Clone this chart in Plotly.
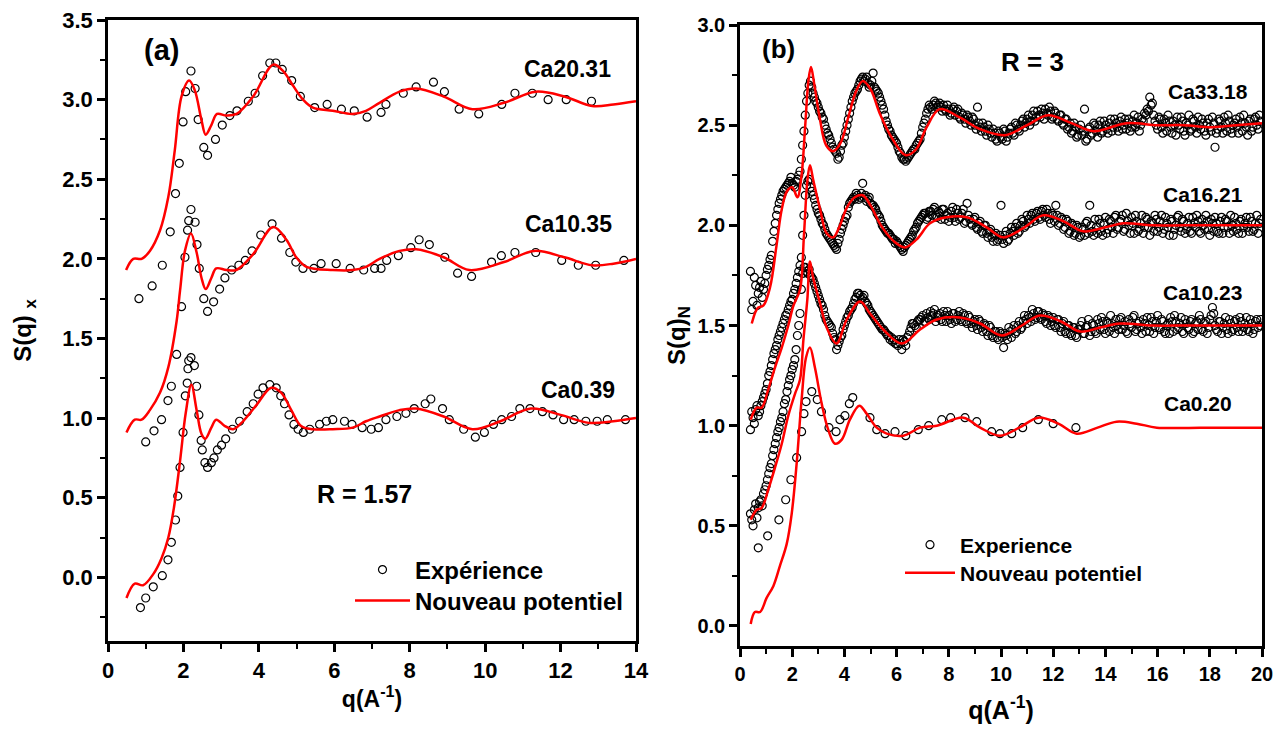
import plotly.graph_objects as go

# page is photographed with an 8 px body margin: figure is sized to fit the 1285x733 window
OFF = 8
W, H = 1285 - OFF, 733 - OFF

# ---------------- Panel (a) : X-ray, R = 1.57 ----------------
qa_exp_20 = [0.82,1.17,1.44,1.65,1.79,1.89,1.99,2.06,2.20,2.31,2.39,2.54,2.64,2.85,3.03,3.23,3.42,3.72,3.90,4.10,4.29,4.45,4.62,4.87,5.10,5.48,5.81,6.19,6.53,6.87,7.24,7.37,7.83,8.17,8.63,8.92,9.31,9.83,10.44,10.79,11.25,11.67,12.15,12.82]
sa_exp_20 = [1.75,1.83,1.96,2.17,2.41,2.60,2.86,3.05,3.18,3.07,2.875,2.70,2.65,2.75,2.84,2.90,2.93,2.99,3.04,3.15,3.23,3.23,3.19,3.12,3.02,2.95,2.97,2.94,2.93,2.89,2.92,2.97,3.04,3.08,3.11,3.05,2.94,2.91,2.97,3.04,3.04,3.00,3.00,2.99]

qa_exp_10 = [1.00,1.22,1.42,1.59,1.68,1.82,1.95,2.04,2.11,2.14,2.20,2.31,2.36,2.42,2.54,2.64,2.80,2.96,3.10,3.28,3.47,3.64,3.82,4.05,4.35,4.60,4.82,4.98,5.17,5.46,5.65,6.05,6.42,6.78,7.07,7.24,7.39,7.70,8.03,8.25,8.52,8.93,9.27,9.64,10.17,10.43,10.79,11.34,12.03,12.47,12.93,13.68]
sa_exp_10 = [0.85,0.92,0.99,1.11,1.20,1.40,1.70,2.01,2.18,2.24,2.31,2.23,2.09,1.94,1.75,1.67,1.73,1.81,1.88,1.93,1.96,1.99,2.05,2.15,2.22,2.13,2.04,1.98,1.94,1.94,1.97,1.97,1.94,1.93,1.94,1.94,1.99,2.02,2.07,2.12,2.09,2.01,1.91,1.89,1.98,2.02,2.04,2.04,1.99,1.96,1.96,1.99]

qa_exp_0 = [0.86,1.00,1.20,1.44,1.59,1.68,1.79,1.85,1.91,1.99,2.05,2.10,2.12,2.14,2.20,2.29,2.35,2.41,2.47,2.50,2.57,2.64,2.74,2.81,2.90,3.01,3.12,3.30,3.49,3.69,3.85,3.98,4.11,4.29,4.46,4.58,4.68,4.80,4.93,5.04,5.18,5.35,5.61,5.79,5.96,6.27,6.47,6.74,6.98,7.17,7.37,7.66,7.90,8.12,8.41,8.56,8.87,9.05,9.43,9.74,9.98,10.22,10.44,10.70,10.92,11.19,11.52,11.80,12.08,12.36,12.67,12.97,13.24,13.72]
sa_exp_0 = [-0.19,-0.13,-0.06,0.01,0.11,0.22,0.36,0.51,0.69,0.91,1.14,1.22,1.31,1.36,1.38,1.33,1.20,1.02,0.86,0.80,0.72,0.69,0.72,0.75,0.80,0.83,0.87,0.93,0.98,1.04,1.09,1.15,1.19,1.21,1.19,1.14,1.09,1.02,0.96,0.93,0.91,0.93,0.96,0.98,0.99,0.98,0.96,0.94,0.93,0.94,0.99,1.01,1.03,1.06,1.09,1.12,1.06,0.99,0.93,0.88,0.91,0.96,0.99,1.01,1.06,1.06,1.04,1.02,0.99,0.99,0.98,0.98,0.99,0.99]

qa_fit_20 = [0.48,0.67,0.89,1.11,1.38,1.60,1.77,1.95,2.15,2.30,2.48,2.59,2.74,2.89,3.14,3.41,3.85,4.38,4.64,4.90,5.17,5.43,5.96,6.49,6.84,7.20,7.73,8.17,8.90,9.66,10.50,11.34,12.10,12.84,13.40,14.00]
sa_fit_20 = [1.93,2.00,2.00,2.05,2.18,2.39,2.68,3.02,3.12,3.06,2.87,2.78,2.84,2.91,2.90,2.91,3.02,3.22,3.18,3.09,3.00,2.95,2.93,2.91,2.93,2.98,3.05,3.07,3.02,2.94,2.98,3.05,3.02,2.96,2.97,2.99]

qa_fit_10 = [0.49,0.71,0.89,1.11,1.38,1.60,1.82,1.91,2.04,2.20,2.35,2.48,2.59,2.74,2.87,3.14,3.40,3.85,4.38,4.73,4.99,5.26,5.96,6.49,6.84,7.20,7.73,8.17,8.90,9.58,10.50,11.30,12.10,12.84,13.40,14.00]
sa_fit_10 = [0.91,0.99,0.99,1.05,1.16,1.32,1.61,1.80,2.05,2.16,2.04,1.88,1.81,1.88,1.94,1.93,1.93,2.03,2.20,2.12,2.01,1.95,1.93,1.93,1.95,2.00,2.05,2.06,2.01,1.93,1.98,2.05,2.01,1.96,1.97,2.00]

qa_fit_0 = [0.49,0.71,0.93,1.20,1.42,1.60,1.75,1.91,2.06,2.21,2.35,2.48,2.58,2.74,2.87,3.10,3.32,3.58,3.93,4.33,4.59,4.86,5.12,5.43,5.96,6.49,6.84,7.20,7.73,8.17,8.90,9.66,10.40,11.21,12.00,12.75,13.40,14.00]
sa_fit_0 = [-0.13,-0.04,-0.05,0.02,0.12,0.25,0.44,0.73,1.03,1.21,1.05,0.90,0.87,0.94,0.99,0.95,0.93,0.98,1.08,1.19,1.16,1.05,0.95,0.93,0.93,0.94,0.98,1.01,1.05,1.06,1.01,0.93,0.98,1.06,1.02,0.97,0.98,1.00]

# ---------------- Panel (b) : neutrons, R = 3 ----------------
qb_exp = [0.4,0.5,0.6,0.7,0.8,0.9,1.0,1.1,1.2,1.3,1.4,1.5,1.6,1.7,1.8,1.9,2.0,2.1,2.2,2.3,2.4,2.5,2.6,2.7,2.8,2.9,3.0,3.1,3.2,3.3,3.4,3.5,3.6,3.7,3.8,3.9,
          4.0,4.1,4.2,4.3,4.4,4.5,4.6,4.7,4.8,4.9,5.0,5.1,5.2,5.3,5.4,5.5,5.6,5.7,5.8,5.9,6.0,6.1,6.2,6.3,6.4,6.5,6.6,6.7,6.8,6.9,7.0,7.1,7.2,7.3,7.4,7.5,7.6,7.7,7.8,7.9,
          8.0,8.1,8.2,8.3,8.4,8.5,8.6,8.7,8.8,8.9,9.0,9.1,9.2,9.3,9.4,9.5,9.6,9.7,9.8,9.9,10.0,10.1,10.2,10.3,10.4,10.5,10.6,10.7,10.8,10.9,11.0,11.1,11.2,11.3,11.4,11.5,11.6,11.7,11.8,11.9,
          12.0,12.1,12.2,12.3,12.4,12.5,12.6,12.7,12.8,12.9,13.0,13.1,13.2,13.3,13.4,13.5,13.6,13.7,13.8,13.9,14.0,14.1,14.2,14.3,14.4,14.5,14.6,14.7,14.8,14.9,15.0,15.1,15.2,15.3,15.4,15.5,15.6,15.7,15.8,15.9,
          16.0,16.1,16.2,16.3,16.4,16.5,16.6,16.7,16.8,16.9,17.0,17.1,17.2,17.3,17.4,17.5,17.6,17.7,17.8,17.9,18.0,18.1,18.2,18.3,18.4,18.5,18.6,18.7,18.8,18.9,19.0,19.1,19.2,19.3,19.4,19.5,19.6,19.7,19.8,19.9]

qb_exp_mid = [0.45,0.55,0.65,0.75,0.85,0.95,1.05,1.15,1.25,1.35,1.45,1.55,1.65,1.75,1.85,1.95,2.05,2.15,2.25,2.35,2.45,2.55,2.65,2.75,2.85,2.95,3.05,3.15,3.25,3.35,3.45,3.55,3.65,3.75,3.85,3.95,
              4.05,4.15,4.25,4.35,4.45,4.55,4.65,4.75,4.85,4.95,5.05,5.15,5.25,5.35,5.45,5.55,5.65,5.75,5.85,5.95,6.05,6.15,6.25,6.35,6.45,6.55,6.65,6.75,6.85,6.95,7.05,7.15,7.25,7.35,7.45,7.55,7.65,7.75,7.85,7.95,
              8.05,8.15,8.25,8.35,8.45,8.55,8.65,8.75,8.85,8.95,9.05,9.15,9.25,9.35,9.45,9.55,9.65,9.75,9.85,9.95,10.05,10.15,10.25,10.35,10.45,10.55,10.65,10.75,10.85,10.95,11.05,11.15,11.25,11.35,11.45,11.55,11.65,11.75,11.85,11.95,
              12.05,12.15,12.25,12.35,12.45,12.55,12.65,12.75,12.85,12.95,13.05,13.15,13.25,13.35,13.45,13.55,13.65,13.75,13.85,13.95,14.05,14.15,14.25,14.35,14.45,14.55,14.65,14.75,14.85,14.95,15.05,15.15,15.25,15.35,15.45,15.55,15.65,15.75,15.85,15.95,
              16.05,16.15,16.25,16.35,16.45,16.55,16.65,16.75,16.85,16.95,17.05,17.15,17.25,17.35,17.45,17.55,17.65,17.75,17.85,17.95,18.05,18.15,18.25,18.35,18.45,18.55,18.65,18.75,18.85,18.95,19.05,19.15,19.25,19.35,19.45,19.55,19.65,19.75,19.85,19.95]

sb_exp_33 = [1.77,1.62,1.70,1.66,1.72,1.68,1.75,1.80,1.85,1.97,2.05,2.11,2.15,2.18,2.20,2.22,2.21,2.19,2.23,2.27,2.40,2.55,2.66,2.72,2.66,2.62,2.59,2.56,2.53,2.48,2.45,2.41,2.38,2.36,2.34,2.40,
             2.44,2.50,2.56,2.62,2.66,2.68,2.72,2.74,2.73,2.71,2.70,2.76,2.68,2.66,2.62,2.58,2.52,2.48,2.45,2.43,2.41,2.37,2.34,2.33,2.33,2.35,2.37,2.38,2.41,2.43,2.49,2.53,2.58,2.59,2.60,2.61,2.60,2.59,2.60,2.57,
             2.58,2.56,2.59,2.57,2.54,2.56,2.53,2.55,2.52,2.54,2.50,2.59,2.49,2.51,2.47,2.50,2.46,2.48,2.43,2.47,2.44,2.48,2.42,2.46,2.49,2.45,2.50,2.47,2.52,2.49,2.53,2.50,2.55,2.52,2.57,2.54,2.56,2.58,2.55,2.57,
             2.54,2.56,2.52,2.55,2.50,2.53,2.49,2.46,2.51,2.44,2.48,2.45,2.58,2.43,2.49,2.46,2.50,2.44,2.52,2.47,2.50,2.46,2.53,2.49,2.51,2.47,2.54,2.50,2.48,2.53,2.49,2.55,2.51,2.47,2.53,2.56,2.58,2.64,2.61,2.52,
             2.48,2.53,2.46,2.51,2.55,2.49,2.52,2.45,2.50,2.54,2.47,2.51,2.55,2.48,2.52,2.46,2.50,2.53,2.47,2.51,2.49,2.54,2.39,2.48,2.52,2.46,2.51,2.55,2.48,2.50,2.53,2.46,2.51,2.55,2.49,2.52,2.47,2.53,2.50,2.55]
sb_exp_33_mid = [1.58,1.74,1.60,1.69,1.64,1.71,1.78,1.83,1.92,2.01,2.08,2.13,2.17,2.19,2.21,2.24,2.20,2.22,2.25,2.33,2.47,2.62,2.70,2.69,2.64,2.61,2.57,2.54,2.50,2.46,2.43,2.39,2.37,2.33,2.37,2.41,
                 2.47,2.53,2.59,2.64,2.67,2.70,2.73,2.72,2.74,2.69,2.72,2.69,2.67,2.64,2.60,2.55,2.50,2.47,2.44,2.42,2.39,2.36,2.33,2.32,2.34,2.36,2.38,2.40,2.42,2.46,2.51,2.56,2.60,2.58,2.62,2.59,2.61,2.57,2.58,2.60,
                 2.55,2.58,2.55,2.58,2.53,2.55,2.51,2.54,2.50,2.53,2.48,2.51,2.47,2.49,2.45,2.48,2.44,2.46,2.42,2.46,2.43,2.47,2.44,2.48,2.46,2.51,2.48,2.50,2.53,2.51,2.55,2.52,2.57,2.54,2.55,2.58,2.53,2.56,2.59,2.53,
                 2.57,2.53,2.55,2.51,2.53,2.48,2.51,2.47,2.49,2.45,2.50,2.47,2.42,2.48,2.45,2.51,2.47,2.50,2.46,2.52,2.48,2.51,2.47,2.53,2.49,2.52,2.48,2.53,2.51,2.47,2.52,2.49,2.54,2.50,2.52,2.55,2.57,2.60,2.55,2.50,
                 2.54,2.49,2.53,2.47,2.52,2.46,2.50,2.54,2.48,2.52,2.45,2.50,2.47,2.53,2.49,2.54,2.48,2.51,2.45,2.53,2.47,2.51,2.46,2.53,2.49,2.54,2.47,2.52,2.46,2.51,2.49,2.54,2.47,2.51,2.45,2.53,2.49,2.54,2.48,2.52]

sb_exp_16 = [0.98,1.04,1.08,1.05,1.10,1.14,1.18,1.25,1.30,1.36,1.40,1.45,1.49,1.53,1.56,1.60,1.63,1.68,1.74,1.80,1.95,2.15,2.22,2.19,2.15,2.10,2.06,2.03,2.00,1.96,1.94,1.92,1.90,1.88,1.93,1.98,
             2.02,2.05,2.11,2.13,2.13,2.15,2.14,2.21,2.15,2.13,2.11,2.10,2.08,2.05,2.02,1.99,1.97,1.96,1.94,1.93,1.92,1.90,1.88,1.89,1.91,1.93,1.95,1.98,2.01,2.03,2.05,2.06,2.04,2.07,2.08,2.05,2.07,2.03,2.08,2.05,
             2.02,2.07,2.04,2.08,2.03,2.06,2.01,2.11,2.03,2.00,2.04,1.98,2.02,1.96,2.00,1.94,1.98,1.92,1.96,1.93,2.10,1.91,1.97,1.93,1.99,1.95,2.01,1.97,2.03,1.99,2.05,2.01,2.06,2.02,2.07,2.03,2.08,2.04,2.06,2.01,
             2.05,2.10,2.00,2.04,1.98,2.03,1.96,2.01,1.95,2.00,1.94,1.99,1.95,2.02,2.10,1.97,2.03,1.96,2.01,1.95,2.04,1.98,2.02,1.96,2.05,1.99,2.03,1.97,2.06,2.00,2.04,1.96,2.02,1.98,2.05,1.99,2.03,1.95,2.01,2.05,
             1.97,2.02,1.96,2.04,1.99,2.03,1.95,2.00,2.05,1.97,2.02,1.98,2.04,1.96,2.01,2.05,1.97,2.03,1.98,2.02,1.95,2.01,2.04,1.97,2.02,1.96,2.03,1.99,2.05,1.97,2.01,1.96,2.03,1.99,2.04,1.97,2.02,1.98,2.05,2.01]
sb_exp_16_mid = [1.07,1.01,1.10,1.07,1.12,1.16,1.21,1.27,1.33,1.38,1.43,1.47,1.51,1.55,1.58,1.62,1.66,1.71,1.77,1.84,2.05,2.20,2.23,2.17,2.13,2.08,2.05,2.01,1.98,1.95,1.93,1.91,1.89,1.91,1.96,2.00,
                 2.04,2.09,2.12,2.14,2.16,2.13,2.16,2.14,2.12,2.14,2.10,2.09,2.06,2.04,2.00,1.98,1.96,1.95,1.93,1.91,1.91,1.89,1.87,1.90,1.92,1.94,1.97,1.99,2.02,2.04,2.06,2.03,2.07,2.05,2.09,2.04,2.06,2.08,2.03,2.06,
                 2.04,2.09,2.02,2.06,2.04,2.08,2.02,2.05,2.01,2.03,1.99,2.01,1.97,2.00,1.96,1.97,1.94,1.95,1.92,1.95,1.93,1.95,1.92,1.96,1.97,1.99,1.96,2.00,2.02,2.00,2.03,2.05,2.03,2.06,2.04,2.07,2.05,2.08,2.03,2.06,
                 2.02,2.05,2.01,2.03,1.99,2.02,1.97,2.00,1.96,1.99,1.95,1.98,2.01,1.96,2.00,1.95,1.99,2.03,1.97,2.01,1.96,2.03,1.99,2.04,1.98,2.02,2.05,1.98,2.02,1.96,2.01,2.05,1.97,2.01,1.96,2.04,1.99,2.02,1.97,2.03,
                 1.99,2.05,1.98,2.01,1.95,2.02,1.98,2.04,1.99,2.03,1.96,2.01,1.97,2.04,1.99,2.02,1.96,2.00,2.05,1.98,2.03,1.97,2.01,1.96,2.04,1.99,2.02,1.96,2.00,2.04,1.98,2.02,1.96,2.01,1.99,2.04,1.97,2.01,1.96,2.03]

sb_exp_10 = [0.56,0.50,0.61,0.59,0.63,0.66,0.70,0.76,0.81,0.88,0.94,0.99,1.04,1.11,1.17,1.23,1.28,1.33,1.45,1.56,1.76,1.79,1.76,1.75,1.73,1.69,1.65,1.61,1.58,1.53,1.51,1.49,1.44,1.38,1.42,1.45,
             1.50,1.54,1.57,1.59,1.63,1.66,1.65,1.64,1.62,1.60,1.57,1.55,1.53,1.51,1.49,1.48,1.46,1.45,1.44,1.43,1.41,1.43,1.38,1.42,1.44,1.47,1.51,1.50,1.52,1.53,1.55,1.52,1.54,1.57,1.56,1.52,1.55,1.53,1.57,1.52,
             1.55,1.51,1.56,1.53,1.57,1.52,1.55,1.51,1.54,1.49,1.53,1.48,1.52,1.47,1.50,1.45,1.49,1.44,1.47,1.43,1.46,1.39,1.45,1.49,1.44,1.50,1.47,1.52,1.49,1.55,1.51,1.54,1.58,1.53,1.57,1.54,1.56,1.52,1.55,1.50,
             1.54,1.49,1.53,1.47,1.52,1.46,1.50,1.45,1.49,1.44,1.48,1.52,1.46,1.50,1.45,1.51,1.47,1.53,1.48,1.52,1.46,1.51,1.55,1.49,1.53,1.48,1.54,1.50,1.47,1.53,1.49,1.55,1.48,1.52,1.46,1.51,1.54,1.47,1.52,1.49,
             1.55,1.48,1.52,1.46,1.51,1.54,1.47,1.52,1.49,1.54,1.46,1.51,1.48,1.53,1.47,1.52,1.55,1.48,1.51,1.46,1.53,1.59,1.50,1.47,1.52,1.49,1.54,1.46,1.51,1.48,1.53,1.47,1.52,1.49,1.54,1.47,1.51,1.48,1.53,1.50]
sb_exp_10_mid = [0.53,0.58,0.54,0.62,0.60,0.68,0.73,0.79,0.85,0.91,0.97,1.02,1.07,1.13,1.20,1.25,1.30,1.38,1.50,1.68,1.79,1.77,1.78,1.74,1.71,1.67,1.63,1.60,1.55,1.52,1.50,1.46,1.43,1.40,1.44,1.48,
                 1.52,1.55,1.58,1.61,1.64,1.66,1.63,1.65,1.61,1.58,1.56,1.54,1.52,1.50,1.48,1.47,1.45,1.43,1.42,1.41,1.40,1.41,1.43,1.40,1.45,1.49,1.51,1.49,1.53,1.54,1.52,1.56,1.53,1.55,1.58,1.54,1.56,1.52,1.55,1.57,
                 1.53,1.56,1.52,1.55,1.53,1.56,1.52,1.55,1.51,1.52,1.50,1.53,1.49,1.51,1.47,1.50,1.45,1.47,1.44,1.47,1.44,1.46,1.43,1.47,1.48,1.46,1.50,1.48,1.52,1.53,1.55,1.52,1.56,1.54,1.57,1.53,1.55,1.51,1.54,1.52,
                 1.50,1.53,1.49,1.51,1.47,1.50,1.46,1.49,1.45,1.48,1.50,1.46,1.49,1.53,1.47,1.50,1.46,1.51,1.54,1.48,1.52,1.47,1.51,1.46,1.50,1.53,1.48,1.52,1.46,1.51,1.54,1.47,1.51,1.49,1.53,1.47,1.50,1.54,1.46,1.52,
                 1.49,1.53,1.47,1.50,1.46,1.52,1.55,1.48,1.51,1.47,1.53,1.49,1.52,1.46,1.51,1.48,1.53,1.47,1.52,1.49,1.55,1.56,1.48,1.52,1.46,1.51,1.48,1.53,1.47,1.52,1.49,1.54,1.47,1.51,1.48,1.53,1.46,1.52,1.49,1.53]

qb_exp_0 = [0.70,1.06,1.49,1.75,1.95,2.17,2.36,2.45,2.53,2.75,2.96,3.12,3.41,3.68,3.83,4.02,4.19,4.32,4.98,5.24,5.56,5.94,6.35,6.83,7.23,7.73,8.07,8.62,9.07,9.64,9.96,10.41,10.83,11.43,12.00,12.87]
sb_exp_0 = [0.39,0.45,0.53,0.63,0.73,0.84,0.97,1.06,1.12,1.17,1.13,1.07,0.99,0.97,1.03,1.05,1.11,1.14,1.04,0.98,0.96,0.97,0.95,0.98,1.00,1.03,1.04,1.04,1.02,0.97,0.96,0.96,0.99,1.03,1.01,0.99]

qb_fit_33 = [0.45,0.60,0.70,0.90,1.15,1.40,1.60,1.80,2.00,2.20,2.35,2.50,2.62,2.72,2.85,3.05,3.30,3.57,3.85,4.15,4.45,4.70,5.00,5.35,5.85,6.35,6.75,7.15,7.65,8.40,9.20,10.15,11.00,11.80,12.70,13.55,14.80,16.00,17.00,18.10,19.00,20.00]
sb_fit_33 = [1.51,1.57,1.59,1.60,1.69,1.90,2.08,2.17,2.19,2.14,2.24,2.50,2.72,2.79,2.70,2.54,2.40,2.37,2.41,2.54,2.67,2.72,2.68,2.56,2.43,2.35,2.38,2.49,2.58,2.54,2.48,2.45,2.50,2.55,2.51,2.47,2.51,2.50,2.50,2.49,2.50,2.51]

qb_fit_16 = [0.41,0.64,0.83,1.08,1.34,1.60,1.85,2.05,2.30,2.45,2.58,2.68,2.80,3.07,3.32,3.57,3.80,4.10,4.40,4.70,5.00,5.40,5.90,6.32,6.77,7.28,7.92,8.69,9.45,10.09,10.90,11.62,12.40,13.15,14.00,14.70,15.80,17.00,18.50,20.00]
sb_fit_16 = [1.03,1.09,1.09,1.18,1.29,1.39,1.50,1.60,1.68,1.95,2.22,2.30,2.23,2.08,1.96,1.94,1.99,2.09,2.14,2.15,2.10,2.00,1.92,1.89,1.93,2.01,2.04,2.04,1.99,1.94,1.99,2.05,2.02,1.97,1.99,2.01,2.00,2.00,2.00,2.00]

qb_fit_10 = [0.41,0.64,0.83,1.08,1.34,1.60,1.85,2.11,2.30,2.43,2.58,2.68,2.80,3.07,3.32,3.70,4.09,4.60,4.98,5.49,6.20,6.90,7.54,8.43,9.20,10.03,10.80,11.49,12.30,13.03,13.80,14.56,15.80,17.00,18.50,20.00]
sb_fit_10 = [0.53,0.58,0.59,0.68,0.79,0.91,1.05,1.16,1.23,1.43,1.63,1.82,1.74,1.61,1.49,1.41,1.53,1.62,1.56,1.48,1.41,1.48,1.53,1.54,1.51,1.45,1.50,1.55,1.52,1.47,1.49,1.51,1.50,1.50,1.50,1.50]

qb_fit_0 = [0.41,0.57,0.77,1.02,1.28,1.53,1.79,1.98,2.17,2.36,2.53,2.68,2.87,3.13,3.38,3.64,3.90,4.21,4.57,4.85,5.24,5.62,6.26,6.90,7.54,8.56,9.20,9.96,10.70,11.43,12.20,12.90,13.70,14.43,15.20,15.97,17.62,20.00]
sb_fit_0 = [0.01,0.07,0.07,0.14,0.20,0.30,0.41,0.56,0.81,1.13,1.34,1.39,1.29,1.11,0.98,0.91,0.93,1.03,1.10,1.06,0.99,0.96,0.95,0.99,1.00,1.04,0.99,0.95,0.99,1.04,1.01,0.96,0.99,1.02,1.01,0.99,0.99,0.99]

labels_a = ["Ca20.31", "Ca10.35", "Ca0.39"]
labels_b = ["Ca33.18", "Ca16.21", "Ca10.23", "Ca0.20"]

FONT = "Liberation Sans, Arial, Helvetica, sans-serif"
RED = "#ff0000"

def PX(x):  # screen pixel -> paper x
    return (x - OFF) / W

def PY(y):  # screen pixel -> paper y
    return 1 - (y - OFF) / H

fig = go.Figure()

def exp_trace(q, s, xa, ya, leg, show, name):
    return go.Scatter(x=q, y=s, mode="markers", xaxis=xa, yaxis=ya,
                      marker=dict(symbol="circle-open", size=8, color="black", line=dict(width=1.2, color="black")),
                      name=name, showlegend=show, legend=leg, hoverinfo="skip")

def fit_trace(q, s, xa, ya, leg, show, name):
    return go.Scatter(x=q, y=s, mode="lines", xaxis=xa, yaxis=ya,
                      line=dict(color=RED, width=2.5, shape="spline", smoothing=1.0),
                      name=name, showlegend=show, legend=leg, hoverinfo="skip")

# panel a
fig.add_trace(exp_trace(qa_exp_20, sa_exp_20, "x", "y", "legend", True, "Expérience"))
fig.add_trace(exp_trace(qa_exp_10, sa_exp_10, "x", "y", "legend", False, "Expérience"))
fig.add_trace(exp_trace(qa_exp_0, sa_exp_0, "x", "y", "legend", False, "Expérience"))
fig.add_trace(fit_trace(qa_fit_20, sa_fit_20, "x", "y", "legend3", True, "Nouveau potentiel"))
fig.add_trace(fit_trace(qa_fit_10, sa_fit_10, "x", "y", "legend3", False, "Nouveau potentiel"))
fig.add_trace(fit_trace(qa_fit_0, sa_fit_0, "x", "y", "legend3", False, "Nouveau potentiel"))

# panel b
fig.add_trace(exp_trace(qb_exp, sb_exp_33, "x2", "y2", "legend2", True, "Experience"))
fig.add_trace(exp_trace(qb_exp_mid, sb_exp_33_mid, "x2", "y2", "legend2", False, "Experience"))
fig.add_trace(exp_trace(qb_exp, sb_exp_16, "x2", "y2", "legend2", False, "Experience"))
fig.add_trace(exp_trace(qb_exp_mid, sb_exp_16_mid, "x2", "y2", "legend2", False, "Experience"))
fig.add_trace(exp_trace(qb_exp, sb_exp_10, "x2", "y2", "legend2", False, "Experience"))
fig.add_trace(exp_trace(qb_exp_mid, sb_exp_10_mid, "x2", "y2", "legend2", False, "Experience"))
fig.add_trace(exp_trace(qb_exp_0, sb_exp_0, "x2", "y2", "legend2", False, "Experience"))
fig.add_trace(fit_trace(qb_fit_33, sb_fit_33, "x2", "y2", "legend4", True, "Nouveau potentiel"))
fig.add_trace(fit_trace(qb_fit_16, sb_fit_16, "x2", "y2", "legend4", False, "Nouveau potentiel"))
fig.add_trace(fit_trace(qb_fit_10, sb_fit_10, "x2", "y2", "legend4", False, "Nouveau potentiel"))
fig.add_trace(fit_trace(qb_fit_0, sb_fit_0, "x2", "y2", "legend4", False, "Nouveau potentiel"))

def axis_common(tick_size):
    return dict(showline=True, linecolor="black", linewidth=2.5, mirror=True,
                ticks="outside", ticklen=8, tickwidth=2.5, tickcolor="black",
                showgrid=False, zeroline=False, automargin=False, ticklabeloverflow="allow",
                tickfont=dict(family=FONT, size=tick_size, color="black", weight="bold"),
                minor=dict(ticks="outside", ticklen=5, tickwidth=2, tickcolor="black", showgrid=False))

xa = axis_common(22); xa.update(domain=[PX(108), PX(636)], range=[0, 14], dtick=2, anchor="y",
                                 title=dict(text="q(A<sup>-1</sup>)", font=dict(family=FONT, size=23, color="black", weight="bold"), standoff=9))
xa["minor"]["dtick"] = 1
ya = axis_common(22); ya.update(domain=[PY(641), PY(20)], range=[-0.4, 3.5002], dtick=0.5, tick0=0, tickformat=".1f", anchor="x",
                                 title=dict(text="S(q) <sub>x</sub>", font=dict(family=FONT, size=24, color="black", weight="bold"), standoff=24))
ya["minor"]["dtick"] = 0.25
xb = axis_common(20); xb.update(domain=[PX(740), PX(1262)], range=[0, 20], dtick=2, anchor="y2",
                                 title=dict(text="q(A<sup>-1</sup>)", font=dict(family=FONT, size=25, color="black", weight="bold"), standoff=18))
xb["minor"]["dtick"] = 1
yb = axis_common(20); yb.update(domain=[PY(646), PY(25)], range=[-0.1, 3.0002], dtick=0.5, tick0=0, tickformat=".1f", anchor="x2",
                                 title=dict(text="S(q)<sub>N</sub>", font=dict(family=FONT, size=24, color="black", weight="bold"), standoff=6))
yb["minor"]["dtick"] = 0.25

def ann(text, x, y, size, xanchor="center"):
    return dict(text=text, x=PX(x), y=PY(y), xref="paper", yref="paper", showarrow=False,
                xanchor=xanchor, yanchor="middle", font=dict(family=FONT, size=size, color="black", weight="bold"))

annotations = [
    ann("(a)", 161, 50, 29),
    ann(labels_a[0], 567, 69, 23),
    ann(labels_a[1], 568, 224, 23),
    ann(labels_a[2], 578, 390, 23),
    ann("R = 1.57", 364, 494, 25),
    ann("(b)", 778, 49, 26),
    ann("R = 3", 1032, 62, 26),
    ann(labels_b[0], 1208, 91, 21),
    ann(labels_b[1], 1203, 195, 21),
    ann(labels_b[2], 1202, 292, 21),
    ann(labels_b[3], 1198, 403, 21),
]

def leg(x, y, size, iw):
    return dict(x=PX(x), y=PY(y), xanchor="left", yanchor="middle", bgcolor="rgba(0,0,0,0)",
                font=dict(family=FONT, size=size, color="black", weight="bold"), itemwidth=iw)

fig.update_layout(
    width=W, height=H, margin=dict(l=0, r=0, t=0, b=0, autoexpand=False),
    paper_bgcolor="white", plot_bgcolor="white",
    xaxis=xa, yaxis=ya, xaxis2=xb, yaxis2=yb,
    annotations=annotations,
    legend=leg(350, 570, 24, 55),
    legend3=leg(350, 601, 24, 55),
    legend2=leg(900, 545, 21, 50),
    legend4=leg(900, 573, 21, 50),
    showlegend=True,
)

fig.write_html("out.html")
